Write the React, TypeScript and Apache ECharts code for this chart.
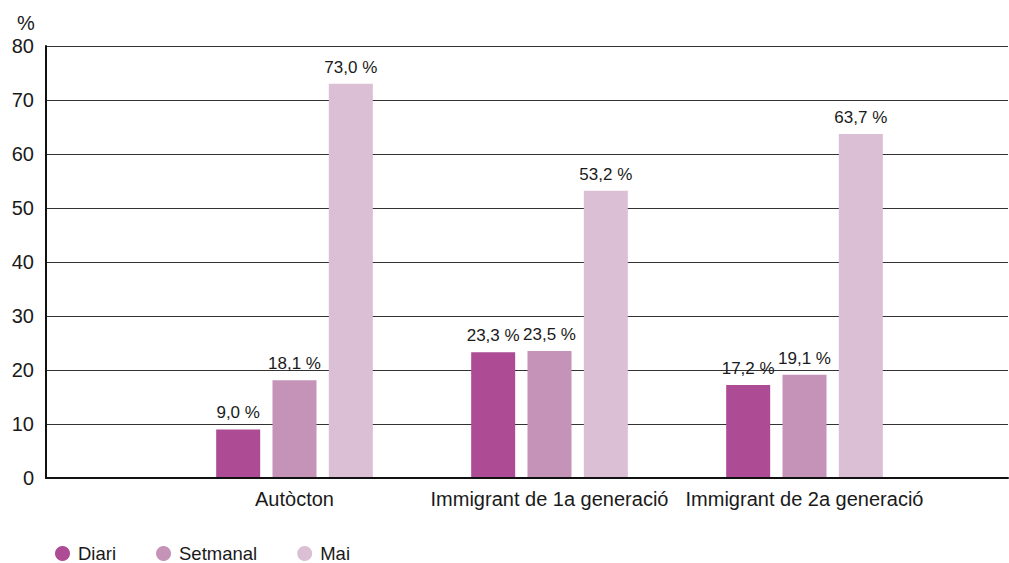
import React, { useEffect, useRef } from "react";
import * as echarts from "echarts";

const categories = ["Autòcton", "Immigrant de 1a generació", "Immigrant de 2a generació"];
const diari = [9.0, 23.3, 17.2];
const setmanal = [18.1, 23.5, 19.1];
const mai = [73.0, 53.2, 63.7];
const seriesNames = ["Diari", "Setmanal", "Mai"];
const colors = ["#ad4b94", "#c493b7", "#dbbfd4"];

const FONT = "'Liberation Sans', Arial, Helvetica, sans-serif";

const fmt = (v: number) => v.toFixed(1).replace(".", ",") + " %";

export default function App() {
  const ref = useRef<HTMLDivElement>(null);
  useEffect(() => {
    if (!ref.current) return;
    const chart = echarts.init(ref.current, undefined, { renderer: "svg" });
    const mkSeries = (name: string, data: number[], color: string) => ({
      name,
      type: "bar",
      xAxisIndex: 1,
      yAxisIndex: 1,
      data,
      barWidth: 44,
      barGap: "28%",
      itemStyle: { color },
      label: {
        show: true,
        position: "top",
        distance: 8,
        formatter: (p: any) => fmt(p.value),
        fontFamily: FONT,
        fontSize: 17,
        color: "#1a1a1a",
      },
    });
    chart.setOption({
      animation: false,
      textStyle: { fontFamily: FONT },
      title: {
        text: "%",
        left: 12,
        top: 8,
        textStyle: { fontFamily: FONT, fontSize: 20, fontWeight: "normal", color: "#1a1a1a" },
      },
      legend: {
        left: 55,
        top: 544,
        icon: "circle",
        itemWidth: 15,
        itemHeight: 15,
        itemGap: 40,
        padding: 0,
        data: seriesNames,
        textStyle: { fontFamily: FONT, fontSize: 18.5, lineHeight: 18, color: "#1a1a1a", padding: [0, 0, 0, 3] },
      },
      grid: [
        { left: 46, right: 1, top: 46, bottom: 85 },
        { left: 167, right: 77, top: 46, bottom: 85 },
      ],
      xAxis: [
        {
          gridIndex: 0,
          type: "category",
          data: [""],
          axisLine: { show: true, lineStyle: { color: "#111", width: 2 } },
          axisTick: { show: false },
          axisLabel: { show: false },
          z: 5,
        },
        {
          gridIndex: 1,
          type: "category",
          data: categories,
          axisLine: { show: false },
          axisTick: { show: false },
          axisLabel: { interval: 0, fontFamily: FONT, fontSize: 20, color: "#1a1a1a", margin: 11 },
        },
      ],
      yAxis: [
        {
          gridIndex: 0,
          type: "value",
          min: 0,
          max: 80,
          interval: 10,
          axisLine: { show: true, lineStyle: { color: "#111", width: 2 } },
          axisTick: { show: false },
          axisLabel: { fontFamily: FONT, fontSize: 20, color: "#1a1a1a", margin: 12 },
          splitLine: { show: true, lineStyle: { color: "#333", width: 1 } },
        },
        {
          gridIndex: 1,
          type: "value",
          min: 0,
          max: 80,
          interval: 10,
          show: false,
          splitLine: { show: false },
        },
      ],
      series: [
        mkSeries(seriesNames[0], diari, colors[0]),
        mkSeries(seriesNames[1], setmanal, colors[1]),
        mkSeries(seriesNames[2], mai, colors[2]),
      ],
    });
    return () => chart.dispose();
  }, []);
  return (
    <div
      ref={ref}
      style={{ position: "fixed", left: 0, top: 0, width: 1009, height: 563, background: "#fff" }}
    />
  );
}
